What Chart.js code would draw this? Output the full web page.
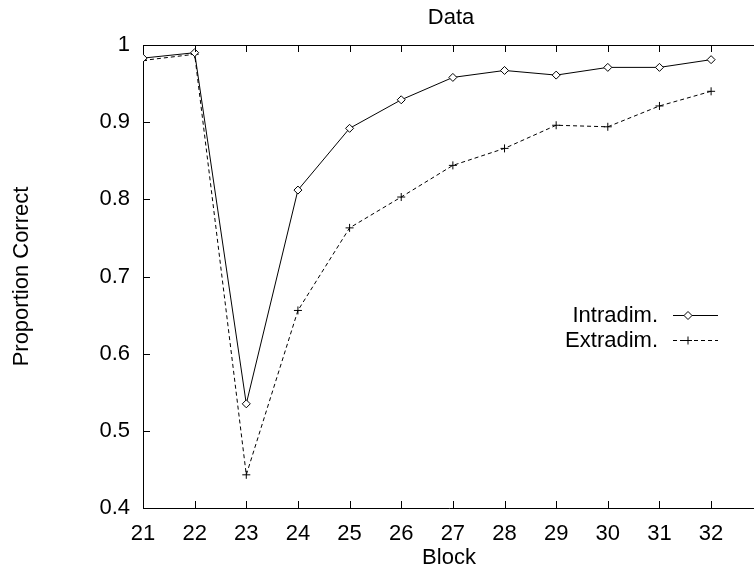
<!DOCTYPE html>
<html>
<head>
<meta charset="utf-8">
<script src="https://cdn.jsdelivr.net/npm/chart.js@4"></script>
<style>
  html, body { margin: 0; padding: 0; background: #fff; overflow: hidden; }
  #wrap { width: 760px; height: 567px; }
</style>
</head>
<body>
<div id="wrap"><canvas id="myChart"></canvas></div>
<script>
const blocks = [21, 22, 23, 24, 25, 26, 27, 28, 29, 30, 31, 32]
const intradim = [0.983, 0.990, 0.535, 0.812, 0.892, 0.929, 0.958, 0.967, 0.961, 0.971, 0.971, 0.981]
const extradim = [0.980, 0.988, 0.443, 0.656, 0.763, 0.803, 0.844, 0.866, 0.896, 0.894, 0.921, 0.940]
const yTicks = [0.4, 0.5, 0.6, 0.7, 0.8, 0.9, 1]

const fontFamily = '"Liberation Sans", Arial, Helvetica, sans-serif'
const fontSize = 22

// gnuplot style: inward ticks, top border, title and key drawn by hand
const gnuplotBits = {
    id: 'gnuplotBits',
    afterDraw(chart) {
        const ctx = chart.ctx
        const area = chart.chartArea
        const xs = chart.scales.x
        const ys = chart.scales.y
        ctx.save()
        ctx.strokeStyle = '#000'
        ctx.lineWidth = 1
        ctx.beginPath()
        // top border
        ctx.moveTo(area.left, area.top + 0.5)
        ctx.lineTo(chart.width, area.top + 0.5)
        blocks.forEach((b) => {
            const px = Math.round(xs.getPixelForValue(b)) + 0.5
            ctx.moveTo(px, area.bottom)
            ctx.lineTo(px, area.bottom - 7)
            ctx.moveTo(px, area.top)
            ctx.lineTo(px, area.top + 7)
        })
        yTicks.forEach((v) => {
            const py = Math.round(ys.getPixelForValue(v)) + 0.5
            ctx.moveTo(area.left, py)
            ctx.lineTo(area.left + 7, py)
        })
        ctx.stroke()

        // title
        ctx.fillStyle = '#000'
        ctx.font = fontSize + 'px ' + fontFamily
        ctx.textAlign = 'center'
        ctx.textBaseline = 'middle'
        ctx.fillText('Data', 451, 18)

        // key
        const rows = [
            { label: 'Intradim.', y: 315, ds: chart.data.datasets[0] },
            { label: 'Extradim.', y: 340, ds: chart.data.datasets[1] }
        ]
        rows.forEach((r) => {
            ctx.fillStyle = '#000'
            ctx.textAlign = 'right'
            ctx.fillText(r.label, 658, r.y + 1)
            ctx.setLineDash(r.ds.borderDash || [])
            ctx.beginPath()
            ctx.moveTo(673, r.y + 0.5)
            ctx.lineTo(718, r.y + 0.5)
            ctx.stroke()
            ctx.setLineDash([])
            ctx.fillStyle = r.ds.backgroundColor
            Chart.helpers.drawPoint(ctx, {
                pointStyle: r.ds.pointStyle,
                radius: r.ds.pointRadius,
                rotation: 0,
                borderWidth: 1
            }, 688, r.y + 0.5)
        })
        ctx.restore()
    }
}

const data = {
    datasets: [{
        label: 'Intradim.',
        data: blocks.map((b, i) => ({ x: b, y: intradim[i] })),
        borderColor: '#000',
        backgroundColor: '#fff',
        borderWidth: 1,
        pointStyle: 'rectRot',
        pointRadius: 4,
        pointBorderWidth: 1,
        tension: 0
    }, {
        label: 'Extradim.',
        data: blocks.map((b, i) => ({ x: b, y: extradim[i] })),
        borderColor: '#000',
        backgroundColor: '#000',
        borderWidth: 1,
        borderDash: [4, 3],
        pointStyle: 'cross',
        pointRadius: 4,
        pointBorderWidth: 1,
        tension: 0
    }]
}

const config = {
    type: 'line',
    data: data,
    plugins: [gnuplotBits],
    options: {
        responsive: true,
        maintainAspectRatio: false,
        animation: false,
        layout: { padding: { top: 45, right: 0, left: 9, bottom: 0 } },
        plugins: {
            legend: { display: false },
            tooltip: { enabled: false }
        },
        scales: {
            x: {
                type: 'linear',
                min: 21,
                max: 32.85,
                afterFit: (scale) => {
                    scale.height = 59
                    scale.paddingRight = 0
                    scale.paddingLeft = 0
                },
                afterBuildTicks: (scale) => { scale.ticks = blocks.map((b) => ({ value: b })) },
                ticks: {
                    color: '#000',
                    padding: 13,
                    font: { family: fontFamily, size: fontSize },
                    maxRotation: 0
                },
                grid: { display: false, drawTicks: false },
                border: { color: '#000', width: 1 },
                title: {
                    display: true,
                    text: 'Block',
                    color: '#000',
                    padding: { top: 0, bottom: -4 },
                    font: { family: fontFamily, size: fontSize }
                }
            },
            y: {
                min: 0.4,
                max: 1,
                afterFit: (scale) => { scale.width = 134 },
                afterBuildTicks: (scale) => { scale.ticks = yTicks.map((v) => ({ value: v })) },
                ticks: {
                    color: '#000',
                    padding: 13,
                    font: { family: fontFamily, size: fontSize },
                    callback: (v) => String(Math.round(v * 10) / 10)
                },
                grid: { display: false, drawTicks: false },
                border: { color: '#000', width: 1 },
                title: {
                    display: true,
                    text: 'Proportion Correct',
                    color: '#000',
                    padding: { top: 0, bottom: 0 },
                    font: { family: fontFamily, size: fontSize }
                }
            }
        }
    }
}

const ctx = document.getElementById('myChart')

new Chart(ctx, config)
</script>
</body>
</html>
